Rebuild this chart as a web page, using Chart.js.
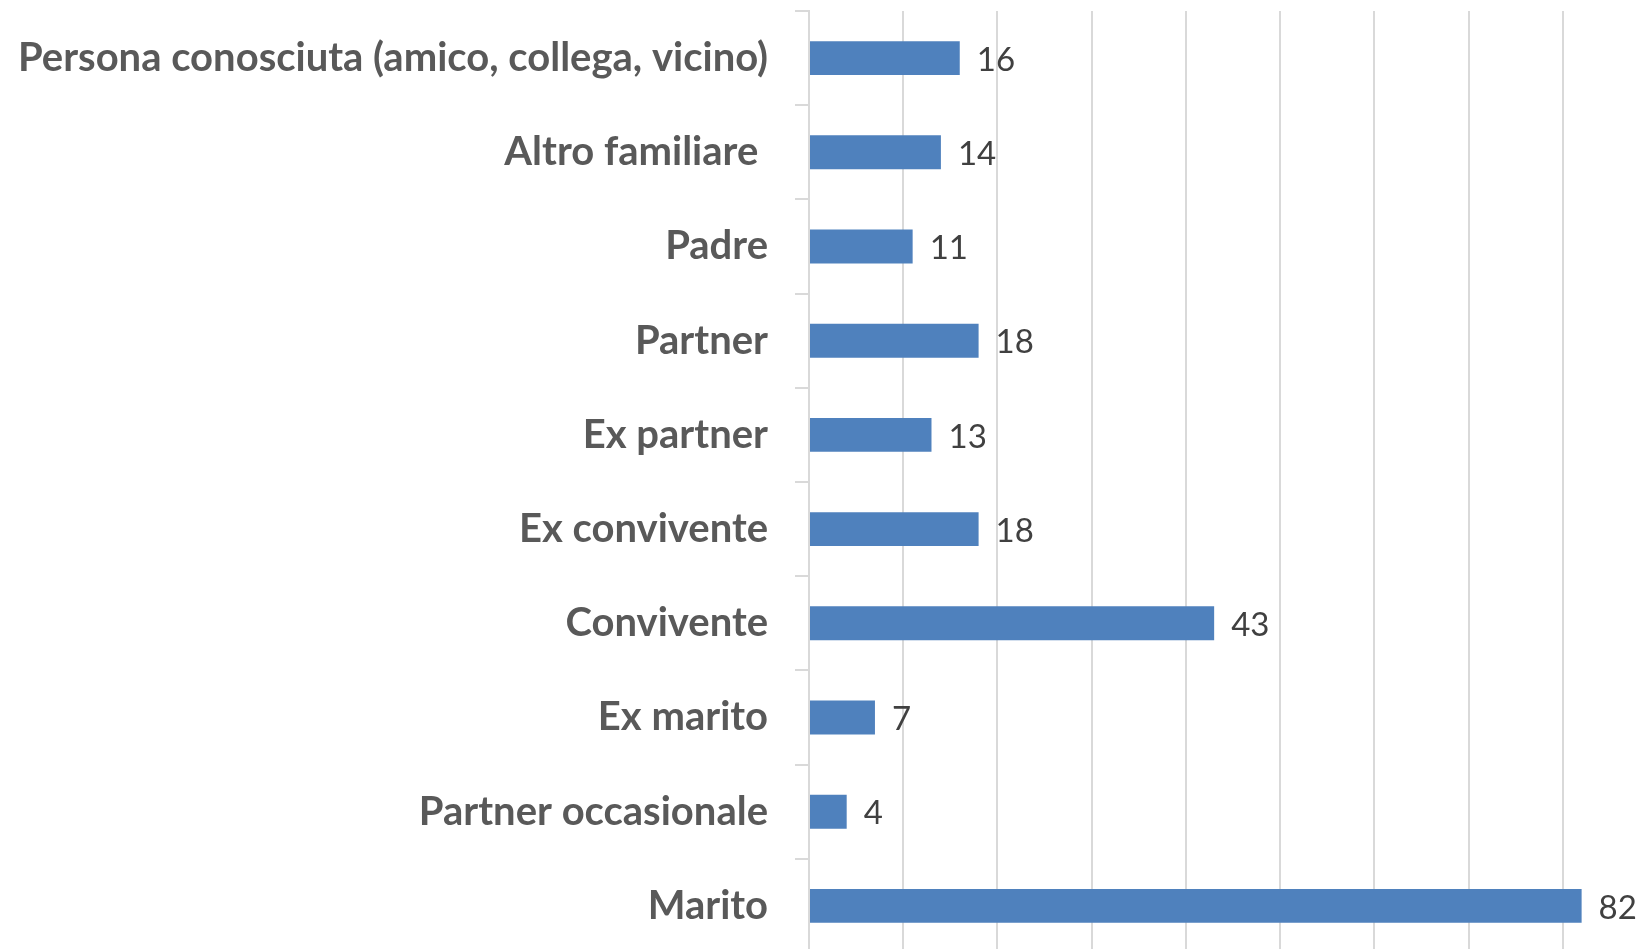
<!DOCTYPE html>
<html>
<head>
<meta charset="utf-8">
<script src="https://cdn.jsdelivr.net/npm/chart.js@4.4.0/dist/chart.umd.min.js"></script>
<style>
    html, body { margin: 0; padding: 0; background: #ffffff; overflow: hidden; }
    #contenedor { position: absolute; left: 0; top: -40px; width: 1660px; height: 1044px; }
</style>
</head>
<body>
<div id="contenedor"><canvas id="grafico"></canvas></div>
<script>
const categorie = ['Persona conosciuta (amico, collega, vicino)', 'Altro familiare ', 'Padre', 'Partner', 'Ex partner', 'Ex convivente', 'Convivente', 'Ex marito', 'Partner occasionale', 'Marito'];
const valori = [16, 14, 11, 18, 13, 18, 43, 7, 4, 82];
const assePassi = [0, 10, 20, 30, 40, 50, 60, 70, 80, 90];

// etichette con il valore a destra di ogni barra
const etichetteValori = {
    id: 'etichetteValori',
    afterDatasetsDraw(chart) {
        const ctx = chart.ctx;
        const meta = chart.getDatasetMeta(0);
        ctx.save();
        ctx.font = '33px Lato';
        ctx.fillStyle = '#404040';
        ctx.textAlign = 'left';
        ctx.textBaseline = 'middle';
        meta.data.forEach((barra, i) => {
            ctx.fillText(String(chart.data.datasets[0].data[i]), barra.x + 17, barra.y + 2);
        });
        ctx.restore();
    }
};

new Chart(document.getElementById('grafico').getContext('2d'), {
    type: 'bar',
    plugins: [etichetteValori],
    data: {
        labels: categorie,
        datasets: [{
            data: valori,
            backgroundColor: '#4F81BD',
            borderWidth: 0,
            categoryPercentage: 1.0,
            barPercentage: 0.36
        }]
    },
    options: {
        indexAxis: 'y',
        responsive: true,
        maintainAspectRatio: false,
        animation: false,
        layout: { padding: { top: 11, right: 3, bottom: 7, left: 0 } },
        plugins: {
            legend: { display: false },
            tooltip: { enabled: false }
        },
        scales: {
            x: {
                min: assePassi[0],
                max: assePassi[assePassi.length - 1],
                ticks: { stepSize: 10, display: false },
                grid: { color: '#D9D9D9', lineWidth: 2, drawTicks: false },
                border: { display: false },
                afterFit(scala) { scala.height = 0; }
            },
            y: {
                ticks: {
                    color: '#595959',
                    padding: 27,
                    font: { family: 'Lato', weight: 'bold', size: 40 }
                },
                grid: {
                    offset: true,
                    drawOnChartArea: false,
                    tickLength: 14,
                    color: '#D9D9D9',
                    lineWidth: 2
                },
                border: { display: true, color: '#D9D9D9', width: 2 },
                afterFit(scala) { scala.width = 809; }
            }
        }
    }
});
</script>
</body>
</html>
